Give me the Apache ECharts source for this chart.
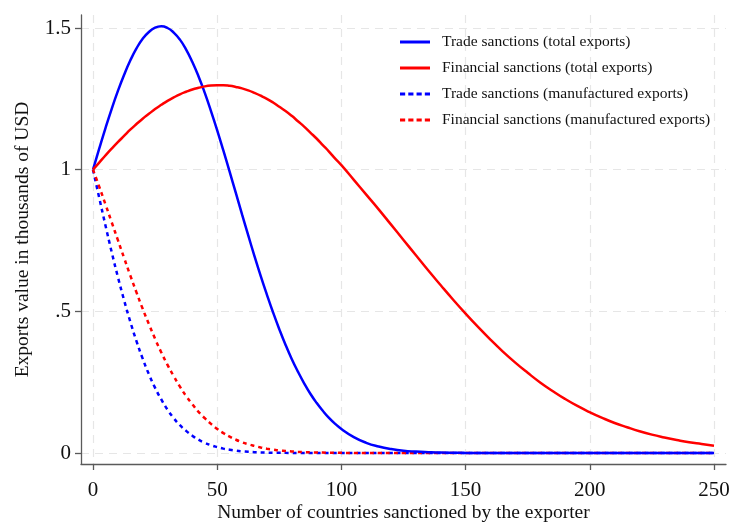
<!DOCTYPE html>
<html>
<head>
<meta charset="utf-8">
<script src="https://cdn.jsdelivr.net/npm/echarts@6/dist/echarts.min.js"></script>
<style>html,body{margin:0;padding:0;background:#fff;}#c{width:729px;height:523px;}</style>
</head>
<body>
<div id="c"></div>
<script>
// x: number of countries sanctioned by the exporter
const xs = [0,2.5,5,7.5,10,12.5,15,17.5,20,22.5,25,27.5,30,32.5,35,37.5,40,42.5,45,47.5,
  50,52.5,55,57.5,60,62.5,65,67.5,70,72.5,75,77.5,80,82.5,85,87.5,90,92.5,95,97.5,100,
  105,110,115,120,125,130,135,140,145,150,155,160,165,170,175,180,185,190,195,200,
  205,210,215,220,225,230,235,240,245,250];
const tradeTotal = [1,1.074,1.146,1.214,1.277,1.334,1.385,1.428,1.462,1.486,1.501,1.506,1.500,1.484,1.459,1.424,1.380,1.329,1.271,1.207,
  1.139,1.067,0.993,0.918,0.842,0.768,0.695,0.625,0.559,0.496,0.437,0.382,0.332,0.287,0.246,0.209,0.177,0.149,0.124,0.103,0.085,
  0.056,0.036,0.023,0.014,0.008,0.005,0.003,0.0015,0.0008,0.0004,0.0002,0.0001,0,0,0,0,0,0,0,0,
  0,0,0,0,0,0,0,0,0,0];
const finTotal = [1,1.025,1.050,1.074,1.097,1.119,1.141,1.161,1.180,1.197,1.214,1.229,1.243,1.255,1.266,1.275,1.283,1.289,1.294,1.297,
  1.298,1.298,1.296,1.292,1.287,1.280,1.271,1.261,1.250,1.237,1.222,1.207,1.190,1.171,1.152,1.131,1.110,1.087,1.064,1.039,1.016,
  0.964,0.912,0.860,0.806,0.752,0.698,0.644,0.592,0.541,0.492,0.445,0.400,0.358,0.319,0.283,0.249,0.219,0.191,0.166,0.144,
  0.124,0.106,0.091,0.077,0.065,0.055,0.046,0.038,0.032,0.026];
const tradeManuf = [1,0.901,0.804,0.710,0.622,0.540,0.464,0.395,0.333,0.278,0.230,0.189,0.153,0.123,0.098,0.078,0.061,0.047,0.036,0.0275,
  0.021,0.0155,0.0115,0.0084,0.006,0.0044,0.003,0.0022,0.0015,0.001,0.0007,0.0005,0.0003,0,0,0,0,0,0,0,0,
  0,0,0,0,0,0,0,0,0,0,0,0,0,0,0,0,0,0,0,0,
  0,0,0,0,0,0,0,0,0,0];
const finManuf = [1,0.940,0.878,0.815,0.752,0.689,0.627,0.567,0.509,0.455,0.403,0.355,0.311,0.271,0.234,0.201,0.172,0.145,0.123,0.103,
  0.085,0.070,0.058,0.047,0.038,0.031,0.025,0.0195,0.015,0.012,0.009,0.0073,0.0056,0.0043,0.0033,0.0025,0.0018,0.0014,0.001,0.0007,0.0005,
  0,0,0,0,0,0,0,0,0,0,0,0,0,0,0,0,0,0,0,0,
  0,0,0,0,0,0,0,0,0,0];
const xTicks = [0,50,100,150,200,250];
const yTicks = [0,0.5,1,1.5];
const seriesNames = ['Trade sanctions (total exports)','Financial sanctions (total exports)',
  'Trade sanctions (manufactured exports)','Financial sanctions (manufactured exports)'];

const pair = arr => xs.map((x,i)=>[x,arr[i]]);
const font = 'Liberation Serif';
const axisCol = '#5a5a5a';
const gridLine = {show:true, lineStyle:{color:'#e6e6e6', width:1.2, type:[8,6]}};
const solidIcon = 'path://M0,0h30v3h-30z';
const dashIcon = 'path://M0,0h5v3h-5zM8,0h5v3h-5zM16,0h5v3h-5zM24,0h5v3h-5z';

const chart = echarts.init(document.getElementById('c'), null, {renderer:'canvas'});
chart.setOption({
  animation:false,
  backgroundColor:'#fff',
  grid:{left:81, right:3, top:15, bottom:59, containLabel:false, outerBoundsMode:'none'},
  legend:{
    orient:'vertical', left:400, top:34, padding:0, itemWidth:30, itemHeight:14, itemGap:10,
    itemStyle:{borderWidth:0},
    textStyle:{fontFamily:font, fontSize:15.5, color:'#111', lineHeight:14, padding:[0,0,0,7]},
    data:[
      {name:seriesNames[0], icon:solidIcon},
      {name:seriesNames[1], icon:solidIcon},
      {name:seriesNames[2], icon:dashIcon},
      {name:seriesNames[3], icon:dashIcon}
    ]
  },
  xAxis:{
    type:'value', min:-4.83, max:254.83,
    name:'Number of countries sanctioned by the exporter', nameLocation:'middle', nameGap:39,
    nameMoveOverlap:false,
    nameTextStyle:{fontFamily:font, fontSize:19.5, color:'#111'},
    axisLine:{show:true, onZero:false, lineStyle:{color:axisCol, width:1.3}},
    axisTick:{show:true, length:6, customValues:xTicks, lineStyle:{color:axisCol, width:1.3}},
    axisLabel:{customValues:xTicks, margin:16, fontFamily:font, fontSize:21, color:'#111'},
    splitLine:gridLine
  },
  yAxis:{
    type:'value', min:-0.0388, max:1.5459,
    name:'Exports value in thousands of USD', nameLocation:'middle', nameGap:48, nameRotate:90,
    nameMoveOverlap:false,
    nameTextStyle:{fontFamily:font, fontSize:19.5, color:'#111'},
    axisLine:{show:true, onZero:false, lineStyle:{color:axisCol, width:1.3}},
    axisTick:{show:true, length:6, customValues:yTicks, lineStyle:{color:axisCol, width:1.3}},
    axisLabel:{customValues:yTicks, margin:10, fontFamily:font, fontSize:21, color:'#111',
      formatter:v=>String(v).replace(/^0\./,'.')},
    splitLine:gridLine
  },
  series:[
    {name:seriesNames[0], type:'line', data:pair(tradeTotal), smooth:true, showSymbol:false, symbol:'none',
     lineStyle:{color:'#0000ff', width:2.5}, itemStyle:{color:'#0000ff'}, z:4},
    {name:seriesNames[1], type:'line', data:pair(finTotal), smooth:true, showSymbol:false, symbol:'none',
     lineStyle:{color:'#ff0000', width:2.5}, itemStyle:{color:'#ff0000'}, z:4},
    {name:seriesNames[2], type:'line', data:pair(tradeManuf), smooth:true, showSymbol:false, symbol:'none',
     lineStyle:{color:'#0000ff', width:2.5, type:[4,4]}, itemStyle:{color:'#0000ff'}, z:3},
    {name:seriesNames[3], type:'line', data:pair(finManuf), smooth:true, showSymbol:false, symbol:'none',
     lineStyle:{color:'#ff0000', width:2.5, type:[4,4]}, itemStyle:{color:'#ff0000'}, z:3}
  ]
});
</script>
</body>
</html>
